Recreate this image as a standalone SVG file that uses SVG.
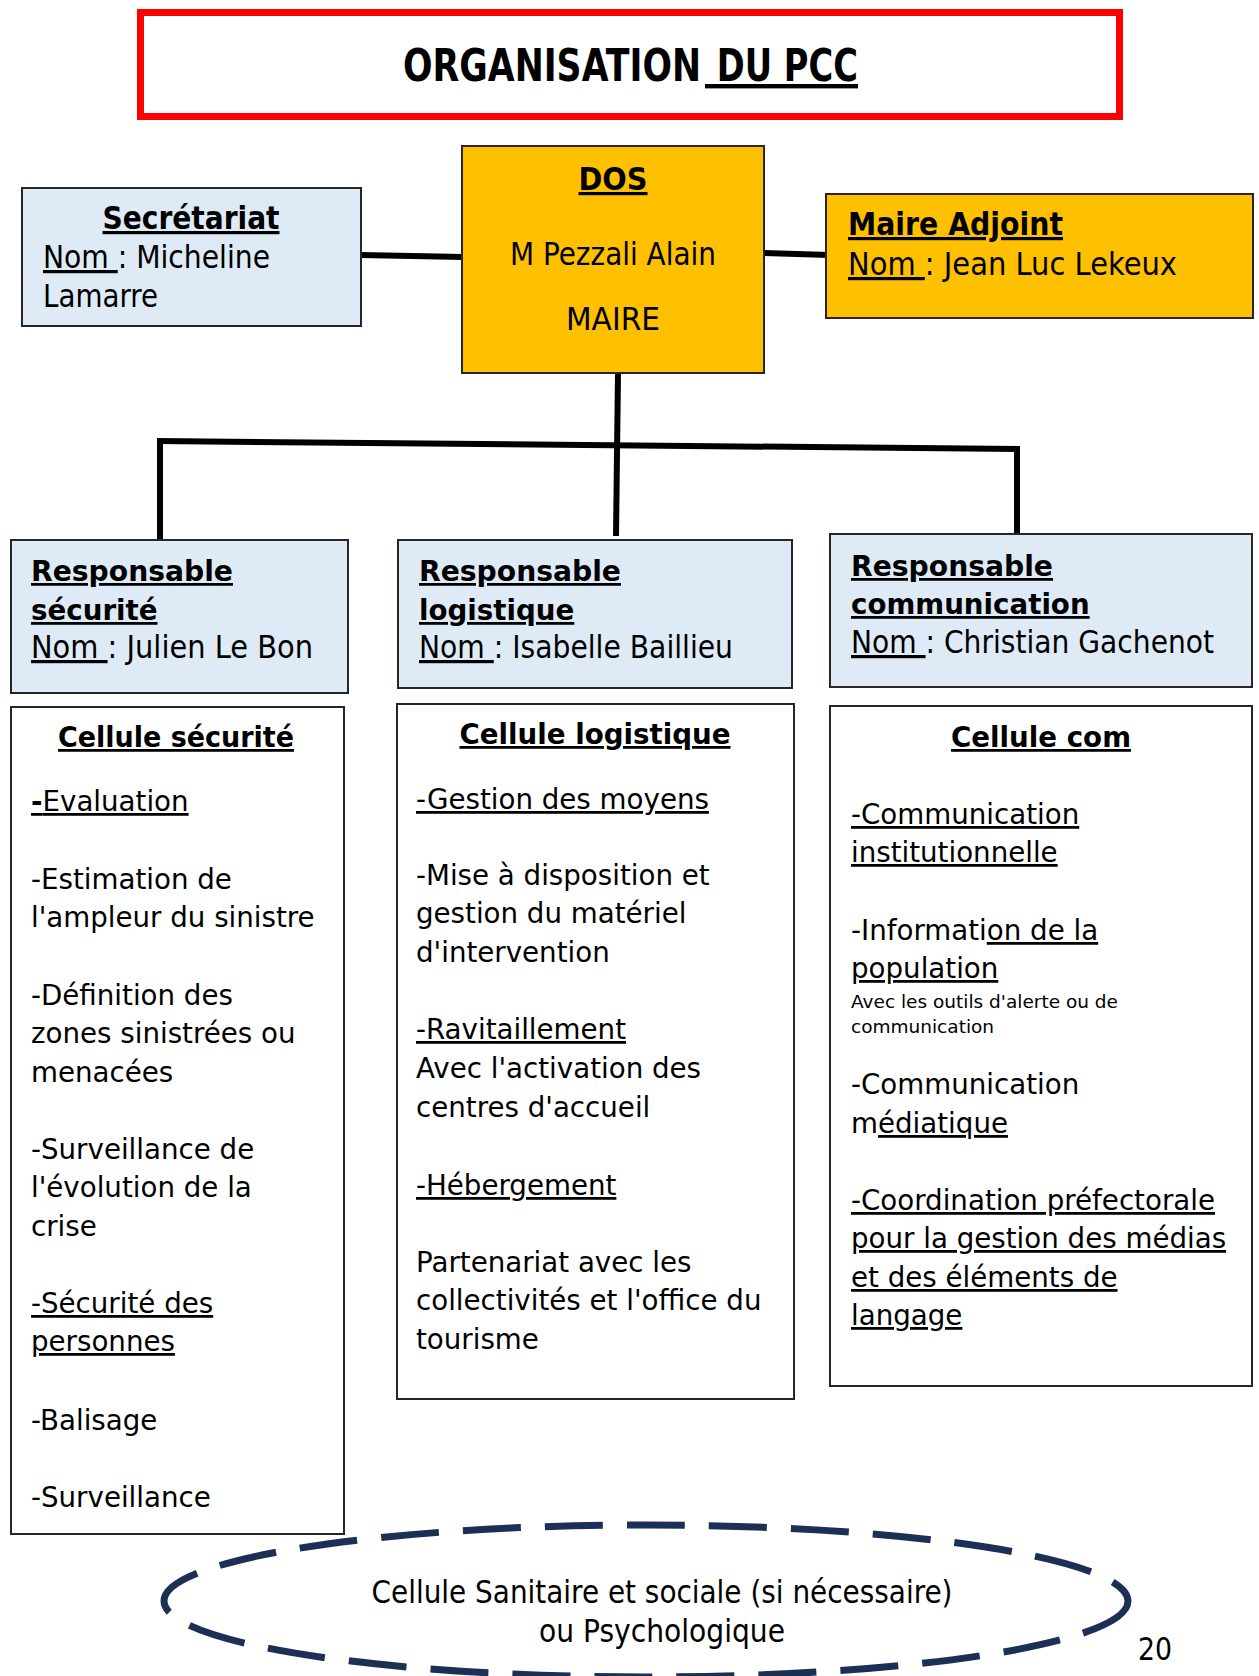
<svg xmlns="http://www.w3.org/2000/svg" width="1259" height="1676" viewBox="0 0 1259 1676">
<style>
.v{font-family:"DejaVu Sans",Verdana,sans-serif;font-size:27.7px;fill:#000}
.vs{font-family:"DejaVu Sans",Verdana,sans-serif;font-size:18.5px;fill:#000}
.vb{font-family:"DejaVu Sans",Verdana,sans-serif;font-size:27.7px;font-weight:bold;fill:#000}
.t{font-family:"DejaVu Sans Condensed","DejaVu Sans",sans-serif;font-stretch:condensed;font-size:32px;fill:#000}
.tb{font-family:"DejaVu Sans Condensed","DejaVu Sans",sans-serif;font-stretch:condensed;font-size:32px;font-weight:bold;fill:#000}
.h{font-family:"DejaVu Sans",sans-serif;font-size:44px;font-weight:bold;fill:#000}
.u{text-decoration:underline}
.blue{fill:#DEEBF7;stroke:#262626;stroke-width:2}
.yel{fill:#FFC000;stroke:#262626;stroke-width:2}
.cell{fill:#FFFFFF;stroke:#262626;stroke-width:2}
.conn{stroke:#000;stroke-width:6;fill:none}
</style>

<g id="title">
<rect x="140.5" y="12.5" width="979" height="104" fill="#FFFFFF" stroke="#FF0000" stroke-width="7"/>
<text class="h" x="403" y="81" textLength="298" lengthAdjust="spacingAndGlyphs">ORGANISATION</text>
<text class="h u" x="705" y="81" xml:space="preserve" textLength="153" lengthAdjust="spacingAndGlyphs"> DU PCC</text>
</g>

<g id="connectors">
<line class="conn" x1="361" y1="255" x2="463" y2="257"/>
<line class="conn" x1="764" y1="253" x2="829" y2="255"/>
<line class="conn" x1="618" y1="373" x2="616" y2="536"/>
<line class="conn" x1="157" y1="441" x2="1020" y2="449"/>
<line class="conn" x1="160" y1="441" x2="160" y2="540"/>
<line class="conn" x1="1017" y1="449" x2="1017" y2="535"/>
</g>

<g id="secretariat">
<rect class="blue" x="22" y="188" width="339" height="138"/>
<text class="tb u" x="191" y="229" text-anchor="middle" textLength="177" lengthAdjust="spacingAndGlyphs">Secrétariat</text>
<text class="t" x="43" y="268" textLength="227" lengthAdjust="spacingAndGlyphs"><tspan class="u">Nom </tspan>: Micheline</text>
<text class="t" x="43" y="307" textLength="115" lengthAdjust="spacingAndGlyphs">Lamarre</text>
</g>

<g id="dos">
<rect class="yel" x="462" y="146" width="302" height="227"/>
<text class="tb u" x="613" y="190" text-anchor="middle" textLength="69" lengthAdjust="spacingAndGlyphs">DOS</text>
<text class="t" x="613" y="265" text-anchor="middle" textLength="206" lengthAdjust="spacingAndGlyphs">M Pezzali Alain</text>
<text class="t" x="613" y="330" text-anchor="middle" textLength="94" lengthAdjust="spacingAndGlyphs">MAIRE</text>
</g>

<g id="maire-adjoint">
<rect class="yel" x="826" y="194" width="427" height="124"/>
<text class="tb u" x="848" y="235" textLength="215" lengthAdjust="spacingAndGlyphs">Maire Adjoint</text>
<text class="t" x="848" y="275" textLength="329" lengthAdjust="spacingAndGlyphs"><tspan class="u">Nom </tspan>: Jean Luc Lekeux</text>
</g>

<g id="resp-securite">
<rect class="blue" x="11" y="540" width="337" height="153"/>
<text class="vb u" x="31" y="581" textLength="202" lengthAdjust="spacingAndGlyphs">Responsable</text>
<text class="vb u" x="31" y="620">sécurité</text>
<text class="t" x="31" y="658" textLength="282" lengthAdjust="spacingAndGlyphs"><tspan class="u">Nom </tspan>: Julien Le Bon</text>
</g>

<g id="resp-logistique">
<rect class="blue" x="398" y="540" width="394" height="148"/>
<text class="vb u" x="419" y="581" textLength="202" lengthAdjust="spacingAndGlyphs">Responsable</text>
<text class="vb u" x="419" y="620">logistique</text>
<text class="t" x="419" y="658" textLength="314" lengthAdjust="spacingAndGlyphs"><tspan class="u">Nom </tspan>: Isabelle Baillieu</text>
</g>

<g id="resp-communication">
<rect class="blue" x="830" y="534" width="422" height="153"/>
<text class="vb u" x="851" y="576" textLength="202" lengthAdjust="spacingAndGlyphs">Responsable</text>
<text class="vb u" x="851" y="614">communication</text>
<text class="t" x="851" y="653" textLength="363" lengthAdjust="spacingAndGlyphs"><tspan class="u">Nom </tspan>: Christian Gachenot</text>
</g>

<g id="cellule-securite">
<rect class="cell" x="11" y="707" width="333" height="827"/>
<text class="vb u" x="176" y="747" text-anchor="middle" textLength="236" lengthAdjust="spacingAndGlyphs">Cellule sécurité</text>
<text class="v u" x="31" y="811"><tspan font-weight="bold">-</tspan>Evaluation</text>
<text class="v" x="31" y="889">-Estimation de</text>
<text class="v" x="31" y="927">l'ampleur du sinistre</text>
<text class="v" x="31" y="1005">-Définition des</text>
<text class="v" x="31" y="1043">zones sinistrées ou</text>
<text class="v" x="31" y="1082">menacées</text>
<text class="v" x="31" y="1159">-Surveillance de</text>
<text class="v" x="31" y="1197">l'évolution de la</text>
<text class="v" x="31" y="1236">crise</text>
<text class="v u" x="31" y="1313">-Sécurité des</text>
<text class="v u" x="31" y="1351">personnes</text>
<text class="v" x="31" y="1430">-Balisage</text>
<text class="v" x="31" y="1507">-Surveillance</text>
</g>

<g id="cellule-logistique">
<rect class="cell" x="397" y="704" width="397" height="695"/>
<text class="vb u" x="595" y="744" text-anchor="middle">Cellule logistique</text>
<text class="v u" x="416" y="809">-Gestion des moyens</text>
<text class="v" x="416" y="885">-Mise à disposition et</text>
<text class="v" x="416" y="923">gestion du matériel</text>
<text class="v" x="416" y="962">d'intervention</text>
<text class="v u" x="416" y="1039">-Ravitaillement</text>
<text class="v" x="416" y="1078">Avec l'activation des</text>
<text class="v" x="416" y="1117">centres d'accueil</text>
<text class="v u" x="416" y="1195">-Hébergement</text>
<text class="v" x="416" y="1272">Partenariat avec les</text>
<text class="v" x="416" y="1310">collectivités et l'office du</text>
<text class="v" x="416" y="1349">tourisme</text>
</g>

<g id="cellule-com">
<rect class="cell" x="830" y="706" width="422" height="680"/>
<text class="vb u" x="1041" y="747" text-anchor="middle">Cellule com</text>
<text class="v u" x="851" y="824">-Communication</text>
<text class="v u" x="851" y="862">institutionnelle</text>
<text class="v" x="851" y="940">-Informati<tspan class="u">on de la</tspan></text>
<text class="v u" x="851" y="978">population</text>
<text class="vs" x="851" y="1008">Avec les outils d'alerte ou de</text>
<text class="vs" x="851" y="1033">communication</text>
<text class="v" x="851" y="1094">-Communication</text>
<text class="v" x="851" y="1133">m<tspan class="u">édiatique</tspan></text>
<text class="v u" x="851" y="1210">-Coordination préfectorale</text>
<text class="v u" x="851" y="1248">pour la gestion des médias</text>
<text class="v u" x="851" y="1287">et des éléments de</text>
<text class="v u" x="851" y="1325">langage</text>
</g>

<g id="cellule-sanitaire">
<ellipse cx="646" cy="1601" rx="482" ry="76" fill="none" stroke="#1C2F55" stroke-width="7" stroke-dasharray="58 24"/>
<text class="t" x="662" y="1603" text-anchor="middle" textLength="581" lengthAdjust="spacingAndGlyphs">Cellule Sanitaire et sociale (si nécessaire)</text>
<text class="t" x="662" y="1642" text-anchor="middle" textLength="246" lengthAdjust="spacingAndGlyphs">ou Psychologique</text>
</g>

<g id="page-number">
<text class="t" x="1138" y="1660" textLength="34" lengthAdjust="spacingAndGlyphs">20</text>
</g>
</svg>
